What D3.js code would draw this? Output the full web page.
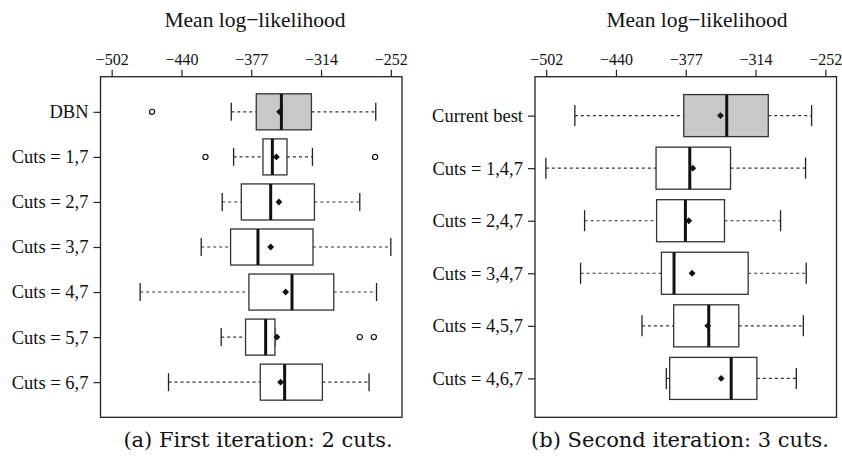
<!DOCTYPE html>
<html>
<head>
<meta charset="utf-8">
<script src="https://cdn.jsdelivr.net/npm/d3@7"></script>
<style>
  html, body { margin: 0; padding: 0; background: #fff; }
  svg { display: block; font-family: "Liberation Serif", "Times New Roman", serif; }
</style>
</head>
<body>
<svg id="chart" width="842" height="459"></svg>
<script>
// shared x axis
const DOMAIN = [-512, -242];
const TICK_VALUES = [-502, -439.5, -377, -314.5, -252];
const TICK_LABELS = ['\u2212502', '\u2212440', '\u2212377', '\u2212314', '\u2212252'];

// (a) first iteration
const labelsA = ['DBN', 'Cuts = 1,7', 'Cuts = 2,7', 'Cuts = 3,7', 'Cuts = 4,7', 'Cuts = 5,7', 'Cuts = 6,7'];
const loA   = [-394.9, -392.8, -403.0, -421.8, -476.5, -403.9, -451.1];
const q1A   = [-372.5, -366.5, -385.9, -395.5, -379.1, -382.1, -368.9];
const medA  = [-350.0, -358.1, -359.6, -371.0, -340.5, -364.1, -347.1];
const q3A   = [-323.1, -345.0, -320.4, -321.7, -303.1, -355.8, -313.3];
const hiA   = [-265.5, -322.2, -279.8, -252.0, -264.8, -355.8, -271.5];
const meanA = [-351.6, -354.5, -352.2, -359.6, -346.2, -354.0, -350.7];
const outA  = [[-465.8], [-418.0, -266.1], [], [], [], [-279.8, -267.2], []];

// (b) second iteration
const labelsB = ['Current best', 'Cuts = 1,4,7', 'Cuts = 2,4,7', 'Cuts = 3,4,7', 'Cuts = 4,5,7', 'Cuts = 4,6,7'];
const loB   = [-476.3, -502.3, -467.6, -471.2, -416.2, -394.4];
const q1B   = [-378.8, -403.6, -403.1, -398.8, -387.8, -391.4];
const medB  = [-340.3, -373.4, -377.3, -387.5, -356.4, -336.3];
const q3B   = [-303.1, -336.9, -342.3, -321.1, -329.5, -313.3];
const hiB   = [-264.3, -269.7, -292.1, -269.1, -271.7, -278.0];
const meanB = [-345.9, -370.7, -374.3, -371.3, -357.3, -345.3];
const outB  = [[], [], [], [], [], []];

const captionA = '(a) First iteration: 2 cuts.';
const captionB = '(b) Second iteration: 3 cuts.';

(function drawFigure() {
  const svg = d3.select('#chart');
  const top = 76.7;
  const bottom = 417.3;
  const panelW = 301.5;

  function panel(left, titleX, captionX, caption, labels, lo, q1, med, q3, hi, mean, outliers) {
    const x = d3.scaleLinear().domain(DOMAIN).range([left, left + panelW]);
    const n = labels.length;
    const y = d3.scalePoint().domain(labels).range([top, bottom]).padding(0.5 + 0.04 * n);
    const boxH = y.step() * 0.8;

    const rows = labels.map((label, i) => ({
      label, i, lo: lo[i], q1: q1[i], med: med[i], q3: q3[i], hi: hi[i], mean: mean[i], out: outliers[i],
    }));

    // top axis
    const axis = svg.append('g')
      .attr('transform', `translate(0,${top})`)
      .call(d3.axisTop(x).tickValues(TICK_VALUES).tickSize(7).tickPadding(5)
        .tickFormat((d, i) => TICK_LABELS[i]))
      .attr('font-family', null)
      .attr('font-size', 16);
    axis.select('.domain').remove();
    axis.selectAll('line').attr('stroke', '#222').attr('stroke-width', 1.2);
    axis.selectAll('text').attr('fill', '#111');

    svg.append('text')
      .attr('x', titleX)
      .attr('y', 26.5)
      .attr('text-anchor', 'middle')
      .attr('font-size', 21.5)
      .attr('fill', '#111')
      .text('Mean log\u2212likelihood');

    // left axis
    const yAxis = svg.append('g')
      .attr('transform', `translate(${left},0)`)
      .call(d3.axisLeft(y).tickSize(7).tickPadding(5))
      .attr('font-family', null)
      .attr('font-size', 18.5);
    yAxis.select('.domain').remove();
    yAxis.selectAll('line').attr('stroke', '#222').attr('stroke-width', 1.2);
    yAxis.selectAll('text').attr('fill', '#111');

    const g = svg.append('g');
    const row = g.selectAll('g.row').data(rows).join('g')
      .attr('class', 'row')
      .attr('transform', d => `translate(0,${y(d.label)})`);

    // whiskers
    row.append('line')
      .attr('x1', d => x(d.lo)).attr('x2', d => x(d.q1))
      .attr('stroke', '#333').attr('stroke-width', 1.1).attr('stroke-dasharray', '3,3');
    row.append('line')
      .attr('x1', d => x(d.q3)).attr('x2', d => x(d.hi))
      .attr('stroke', '#333').attr('stroke-width', 1.1).attr('stroke-dasharray', '3,3');
    row.append('line')
      .attr('x1', d => x(d.lo)).attr('x2', d => x(d.lo))
      .attr('y1', -boxH / 4).attr('y2', boxH / 4)
      .attr('stroke', '#222').attr('stroke-width', 1.3);
    row.append('line')
      .attr('x1', d => x(d.hi)).attr('x2', d => x(d.hi))
      .attr('y1', -boxH / 4).attr('y2', boxH / 4)
      .attr('stroke', '#222').attr('stroke-width', 1.3);

    // boxes
    row.append('rect')
      .attr('x', d => x(d.q1))
      .attr('y', -boxH / 2)
      .attr('width', d => x(d.q3) - x(d.q1))
      .attr('height', boxH)
      .attr('fill', d => d.i === 0 ? '#c8c8c8' : '#fff')
      .attr('stroke', '#333')
      .attr('stroke-width', 1.3);

    row.append('line')
      .attr('x1', d => x(d.med)).attr('x2', d => x(d.med))
      .attr('y1', -boxH / 2).attr('y2', boxH / 2)
      .attr('stroke', '#111').attr('stroke-width', 3);

    row.append('path')
      .attr('transform', d => `translate(${x(d.mean)},0)`)
      .attr('d', d3.symbol(d3.symbolDiamond2).size(30))
      .attr('fill', '#111');

    row.selectAll('circle').data(d => d.out).join('circle')
      .attr('cx', v => x(v))
      .attr('cy', 0)
      .attr('r', 2.6)
      .attr('fill', '#fff')
      .attr('stroke', '#111')
      .attr('stroke-width', 1.2);

    // frame
    svg.append('rect')
      .attr('x', left).attr('y', top)
      .attr('width', panelW).attr('height', bottom - top)
      .attr('fill', 'none')
      .attr('stroke', '#222')
      .attr('stroke-width', 1.3);

    svg.append('text')
      .attr('x', captionX)
      .attr('y', 447)
      .attr('text-anchor', 'middle')
      .attr('font-family', '"DejaVu Serif", serif')
      .attr('font-size', 21)
      .attr('fill', '#111')
      .text(caption);
  }

  panel(100.5, 255, 258, captionA, labelsA, loA, q1A, medA, q3A, hiA, meanA, outA);
  panel(535, 697, 680, captionB, labelsB, loB, q1B, medB, q3B, hiB, meanB, outB);
})();
</script>
</body>
</html>
